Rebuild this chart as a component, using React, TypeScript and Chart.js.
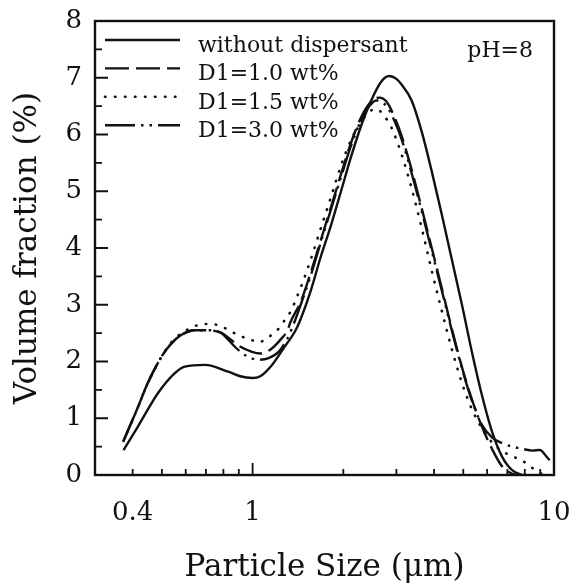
import { useEffect, useRef } from "react";
import { Chart, registerables } from "chart.js";

Chart.register(...registerables);

// Particle size distributions (size in µm, volume fraction in %)
const SIZE_NONE = [0.373, 0.416, 0.485, 0.551, 0.596, 0.695, 0.83, 0.91, 1.0, 1.06, 1.16, 1.27, 1.389, 1.444, 1.56, 1.684, 1.82, 1.965, 2.12, 2.29, 2.475, 2.67, 2.84, 3.0, 3.12, 3.37, 3.64, 3.93, 4.24, 4.58, 4.95, 5.35, 5.77, 6.24, 6.73, 7.28, 7.86];
const FRAC_NONE = [0.44, 0.85, 1.44, 1.79, 1.91, 1.94, 1.82, 1.74, 1.71, 1.74, 1.94, 2.24, 2.55, 2.75, 3.25, 3.85, 4.4, 5.0, 5.6, 6.15, 6.6, 6.93, 7.03, 6.98, 6.88, 6.6, 6.05, 5.35, 4.6, 3.8, 3.0, 2.15, 1.4, 0.75, 0.32, 0.08, 0];

const SIZE_D10 = [0.373, 0.416, 0.449, 0.498, 0.538, 0.581, 0.643, 0.713, 0.79, 0.831, 0.898, 0.995, 1.06, 1.146, 1.24, 1.306, 1.337, 1.444, 1.56, 1.684, 1.82, 1.965, 2.12, 2.29, 2.475, 2.63, 2.78, 2.95, 3.12, 3.37, 3.64, 3.93, 4.24, 4.58, 4.95, 5.35, 5.77, 6.24, 6.73, 7.28, 7.56];
const FRAC_D10 = [0.6, 1.19, 1.62, 2.08, 2.32, 2.47, 2.55, 2.55, 2.5, 2.42, 2.28, 2.17, 2.14, 2.21, 2.39, 2.55, 2.7, 3.05, 3.57, 4.14, 4.72, 5.3, 5.85, 6.3, 6.58, 6.65, 6.58, 6.32, 5.98, 5.38, 4.7, 4.0, 3.3, 2.58, 1.9, 1.32, 0.85, 0.45, 0.15, 0.02, 0];

const SIZE_D15 = [0.373, 0.416, 0.449, 0.498, 0.538, 0.581, 0.643, 0.677, 0.72, 0.78, 0.84, 0.91, 0.99, 1.047, 1.13, 1.216, 1.286, 1.347, 1.389, 1.444, 1.56, 1.684, 1.82, 1.965, 2.12, 2.29, 2.44, 2.57, 2.74, 2.89, 3.12, 3.37, 3.64, 3.93, 4.24, 4.58, 4.95, 5.35, 5.77, 6.24, 6.73, 7.28, 7.86, 8.49, 9.03, 9.31];
const FRAC_D15 = [0.6, 1.19, 1.62, 2.08, 2.34, 2.5, 2.62, 2.66, 2.66, 2.63, 2.54, 2.45, 2.38, 2.34, 2.43, 2.57, 2.75, 2.91, 3.08, 3.3, 3.8, 4.35, 4.9, 5.45, 5.9, 6.22, 6.4, 6.45, 6.32, 6.12, 5.65, 5.05, 4.35, 3.6, 2.9, 2.22, 1.62, 1.15, 0.82, 0.57, 0.42, 0.33, 0.25, 0.12, 0.03, 0];

const SIZE_D30 = [0.373, 0.416, 0.449, 0.498, 0.538, 0.581, 0.643, 0.713, 0.79, 0.831, 0.898, 0.97, 1.047, 1.13, 1.22, 1.306, 1.389, 1.444, 1.56, 1.684, 1.82, 1.965, 2.12, 2.29, 2.44, 2.57, 2.78, 2.95, 3.12, 3.37, 3.64, 3.93, 4.24, 4.58, 4.95, 5.35, 5.77, 6.24, 6.73, 7.28, 7.86, 8.49, 8.96, 9.53, 10];
const FRAC_D30 = [0.6, 1.19, 1.62, 2.08, 2.32, 2.47, 2.55, 2.55, 2.5, 2.38, 2.2, 2.08, 2.03, 2.06, 2.17, 2.41, 2.75, 3.0, 3.52, 4.1, 4.68, 5.25, 5.8, 6.25, 6.5, 6.6, 6.5, 6.25, 5.92, 5.32, 4.65, 3.95, 3.26, 2.55, 1.88, 1.3, 0.88, 0.66, 0.56, 0.5, 0.46, 0.43, 0.44, 0.3, 0.18];

const SERIES_LABELS = ["without dispersant", "D1=1.0 wt%", "D1=1.5 wt%", "D1=3.0 wt%"];
const CONDITION_TEXT = "pH=8";

// Axis ticks
const X_LABEL_TICKS = [0.4, 1, 10];
const X_MAJOR_MARKS = [1];
const X_MINOR_MARKS = [0.4, 0.5, 0.6, 0.7, 0.8, 0.9, 2, 3, 4, 5, 6, 7, 8, 9];
const Y_LABEL_TICKS = [0, 1, 2, 3, 4, 5, 6, 7, 8];
const Y_MINOR_MARKS = [0.5, 1.5, 2.5, 3.5, 4.5, 5.5, 6.5, 7.5];

const FONT = "'DejaVu Serif', 'Liberation Serif', serif";
const INK = "#111";

const toPoints = (xs: number[], ys: number[]) => xs.map((x, i) => ({ x, y: ys[i] }));

// Frame, inward tick marks, in-plot legend and condition label
const framePlugin = {
  id: "frame",
  afterDraw(chart: any) {
    const { ctx, chartArea, scales } = chart;
    const { left, right, top, bottom } = chartArea;
    const xs = scales.x;
    const ys = scales.y;
    ctx.save();
    ctx.strokeStyle = INK;
    ctx.lineCap = "butt";

    ctx.lineWidth = 2.4;
    ctx.strokeRect(left, top, right - left, bottom - top);

    ctx.lineWidth = 1.8;
    ctx.beginPath();
    for (const v of Y_LABEL_TICKS) {
      const p = ys.getPixelForValue(v);
      ctx.moveTo(left, p);
      ctx.lineTo(left + 13, p);
    }
    for (const v of Y_MINOR_MARKS) {
      const p = ys.getPixelForValue(v);
      ctx.moveTo(left, p);
      ctx.lineTo(left + 7, p);
    }
    for (const v of X_MAJOR_MARKS) {
      const p = xs.getPixelForValue(v);
      ctx.moveTo(p, bottom);
      ctx.lineTo(p, bottom - 12);
    }
    for (const v of X_MINOR_MARKS) {
      const p = xs.getPixelForValue(v);
      ctx.moveTo(p, bottom);
      ctx.lineTo(p, bottom - 6);
    }
    ctx.stroke();

    // legend
    const lx0 = left + 10;
    const lx1 = left + 85;
    const tx = left + 103;
    const rowTop = top + 19;
    const rowStep = 28.4;
    ctx.font = `22px ${FONT}`;
    ctx.fillStyle = INK;
    ctx.textBaseline = "alphabetic";
    ctx.textAlign = "left";
    chart.data.datasets.forEach((ds: any, i: number) => {
      const y = rowTop + i * rowStep;
      ctx.save();
      ctx.lineWidth = ds.borderWidth;
      ctx.lineCap = ds.borderCapStyle || "butt";
      ctx.setLineDash(ds.borderDash || []);
      ctx.beginPath();
      ctx.moveTo(lx0, y);
      ctx.lineTo(lx1, y);
      ctx.stroke();
      ctx.restore();
      ctx.fillText(ds.label, tx, y + 12);
    });

    ctx.textAlign = "right";
    ctx.fillText(CONDITION_TEXT, right - 21, top + 36);
    ctx.restore();
  },
};

export default function App() {
  const canvasRef = useRef<HTMLCanvasElement | null>(null);

  useEffect(() => {
    const canvas = canvasRef.current;
    if (!canvas) return;
    Chart.defaults.font.family = FONT;
    Chart.defaults.color = INK;

    const chart = new Chart(canvas, {
      type: "line",
      data: {
        datasets: [
          {
            label: SERIES_LABELS[0],
            data: toPoints(SIZE_NONE, FRAC_NONE),
            borderColor: INK,
            borderWidth: 2.4,
            borderDash: [],
          },
          {
            label: SERIES_LABELS[1],
            data: toPoints(SIZE_D10, FRAC_D10),
            borderColor: INK,
            borderWidth: 2.4,
            borderDash: [24, 7],
          },
          {
            label: SERIES_LABELS[2],
            data: toPoints(SIZE_D15, FRAC_D15),
            borderColor: INK,
            borderWidth: 2.6,
            borderDash: [0.5, 9.5],
            borderCapStyle: "round",
          },
          {
            label: SERIES_LABELS[3],
            data: toPoints(SIZE_D30, FRAC_D30),
            borderColor: INK,
            borderWidth: 2.4,
            borderDash: [30, 6, 2.5, 6, 2.5, 6],
          },
        ] as any,
      },
      options: {
        animation: false,
        responsive: false,
        layout: { padding: { top: 21, right: 16, left: 0, bottom: 0 } },
        elements: {
          point: { radius: 0 },
          line: { cubicInterpolationMode: "monotone", fill: false },
        },
        plugins: { legend: { display: false }, tooltip: { enabled: false } },
        scales: {
          x: {
            type: "logarithmic",
            min: 0.3,
            max: 10,
            grid: { display: false, drawTicks: false },
            border: { display: false },
            afterBuildTicks: (s: any) => {
              s.ticks = X_LABEL_TICKS.map((v) => ({ value: v }));
            },
            afterFit: (s: any) => {
              s.height = 112;
              s.paddingLeft = 0;
              s.paddingRight = 0;
            },
            ticks: {
              autoSkip: false,
              maxRotation: 0,
              minRotation: 0,
              padding: 23,
              color: INK,
              font: { size: 26, family: FONT },
              callback: (v: any) => String(v),
            },
            title: {
              display: true,
              text: "Particle Size (μm)",
              color: INK,
              font: { size: 31, family: FONT },
              padding: { top: 0, bottom: 0 },
            },
          },
          y: {
            min: 0,
            max: 8,
            grid: { display: false, drawTicks: false },
            border: { display: false },
            afterBuildTicks: (s: any) => {
              s.ticks = Y_LABEL_TICKS.map((v) => ({ value: v }));
            },
            afterFit: (s: any) => {
              s.width = 95;
              s.paddingTop = 0;
              s.paddingBottom = 0;
            },
            ticks: {
              padding: 13,
              color: INK,
              font: { size: 26, family: FONT },
              callback: (v: any) => String(v),
            },
            title: {
              display: true,
              text: "Volume fraction (%)",
              color: INK,
              font: { size: 31, family: FONT },
              padding: { top: 9, bottom: 0 },
            },
          },
        },
      } as any,
      plugins: [framePlugin],
    });

    return () => chart.destroy();
  }, []);

  return (
    <div style={{ position: "fixed", left: 0, top: 0, width: 570, height: 587, background: "#fff" }}>
      <canvas ref={canvasRef} width={570} height={587} style={{ display: "block" }} />
    </div>
  );
}
